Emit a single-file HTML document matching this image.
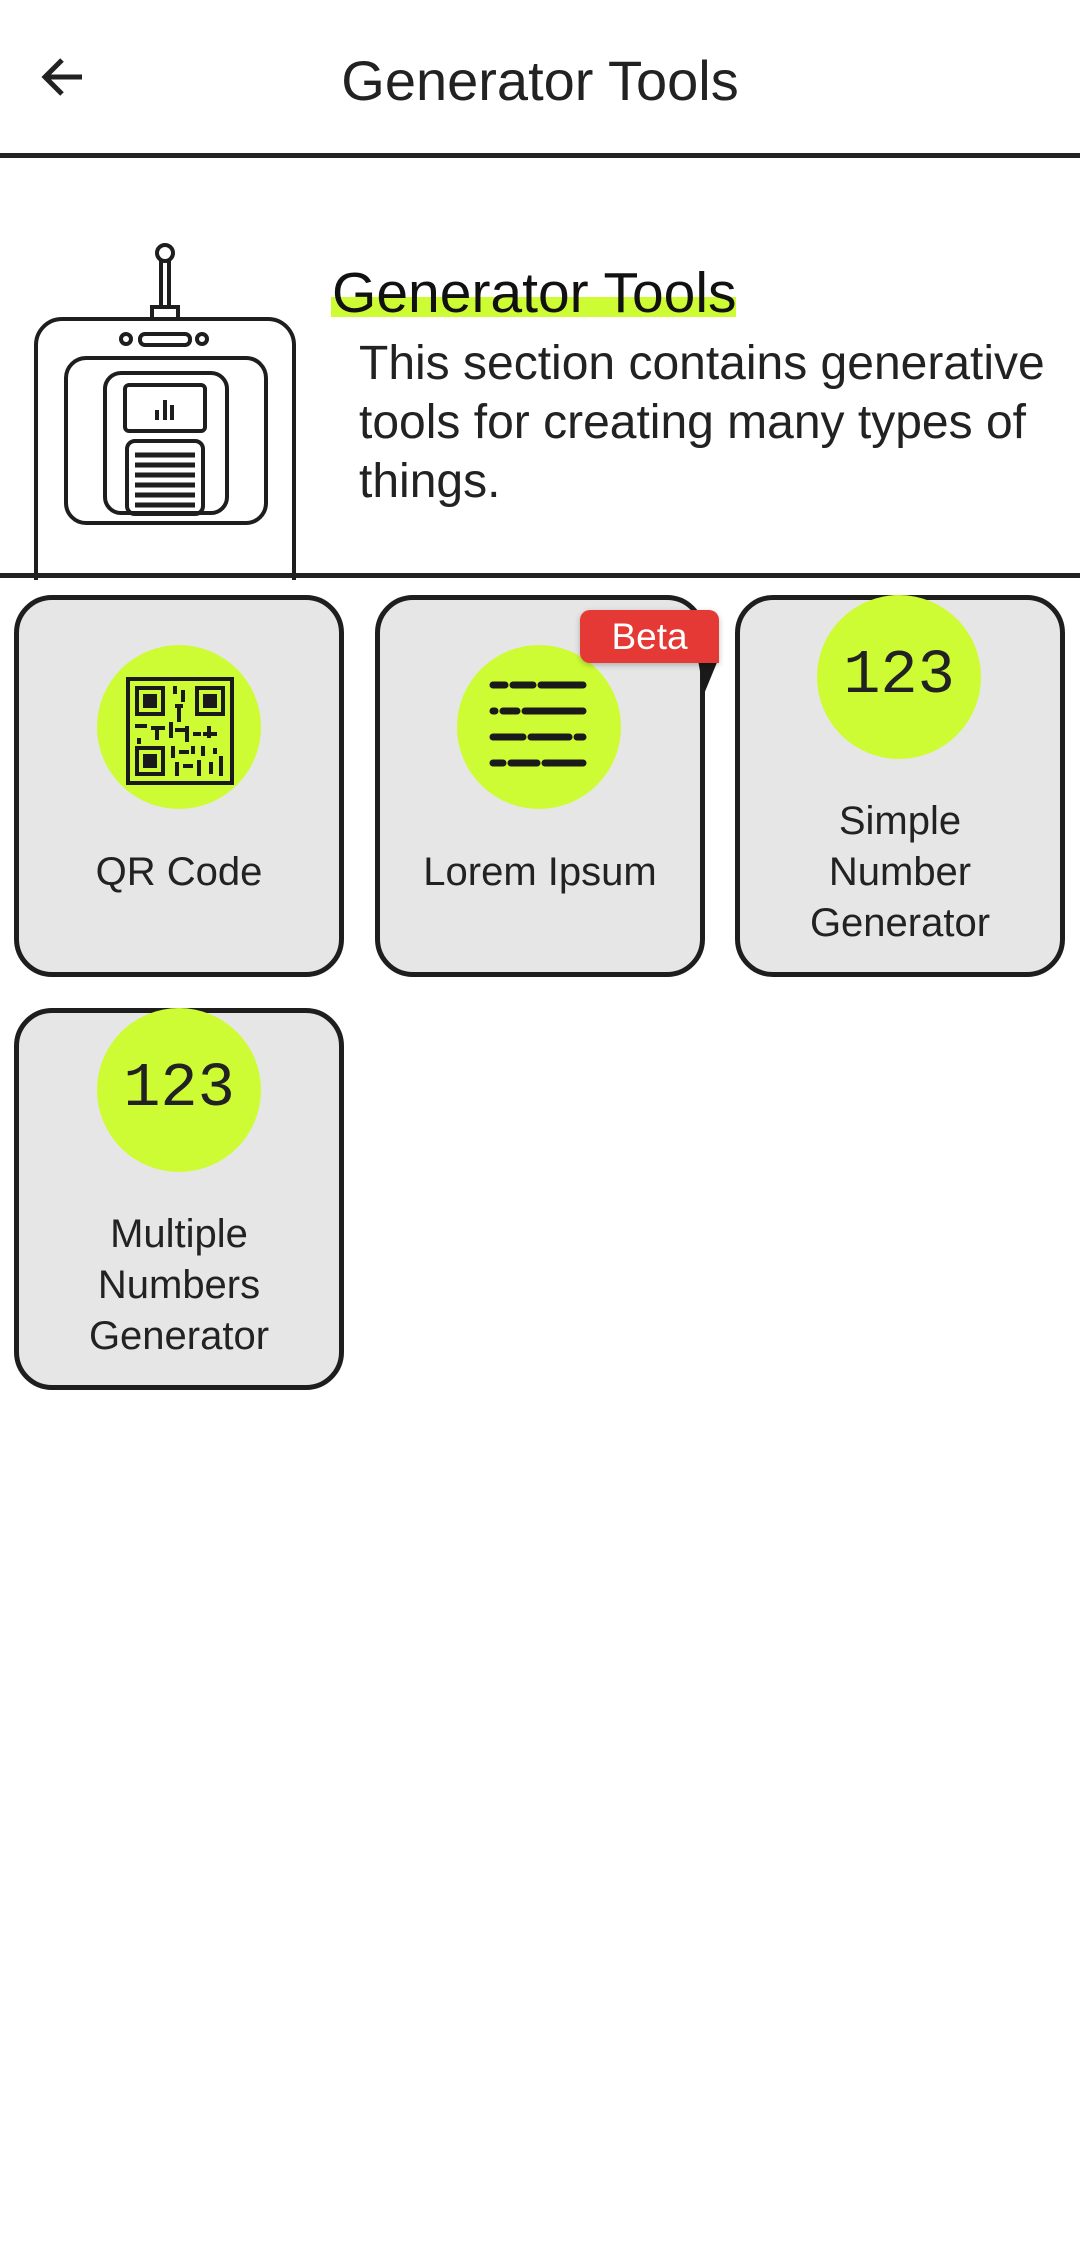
<!DOCTYPE html>
<html><head><meta charset="utf-8"><style>
*{margin:0;padding:0;box-sizing:border-box}
body{width:1080px;height:2251px;background:#fff;position:relative;overflow:hidden;font-family:"Liberation Sans",sans-serif;color:#222}
.abs{position:absolute}
.card{position:absolute;width:330px;height:382px;background:#e6e6e6;border:5px solid #1e1e1e;border-radius:38px}
.circ{position:absolute;width:164px;height:164px;border-radius:50%;background:#cdfc35}
.lbl{position:absolute;text-align:center;font-size:40px;line-height:51px;color:#222}
.num{position:absolute;font-family:"Liberation Mono",monospace;font-size:62px;color:#222;text-align:center;width:164px}
</style></head><body>
<svg class="abs" style="left:38px;top:52px" width="50" height="50" viewBox="0 0 50 50"><path d="M44 25H8M24 8L7 25L24 42" fill="none" stroke="#222" stroke-width="5"/></svg>
<div class="abs" style="left:0;width:1080px;top:48px;text-align:center;font-size:56px;line-height:66px">Generator Tools</div>
<div class="abs" style="left:0;top:153px;width:1080px;height:5px;background:#222"></div>

<svg class="abs" style="left:0;top:240px" width="320" height="340" viewBox="0 240 320 340">
<g fill="none" stroke="#1e1e1e" stroke-width="4">
<circle cx="165" cy="253" r="8"/>
<path d="M161 261V307M169 261V307"/>
<rect x="152" y="307" width="26" height="12"/>
<path d="M36 580V345a26 26 0 0 1 26-26h206a26 26 0 0 1 26 26V580"/>
<circle cx="126" cy="339" r="5"/><circle cx="202" cy="339" r="5"/>
<rect x="140" y="334" width="50" height="11" rx="5"/>
<rect x="66" y="358" width="200" height="165" rx="20"/>
<rect x="105" y="373" width="122" height="140" rx="16"/>
<rect x="125" y="385" width="80" height="46" rx="4"/>
<rect x="127" y="441" width="76" height="73" rx="8"/>
</g>
<g stroke="#1e1e1e" stroke-width="4"><path d="M157 420V410M165 420V400M172 420V405"/></g>
<g stroke="#1e1e1e" stroke-width="5"><path d="M135 455H195M135 465H195M135 475H195M135 485H195M135 495H195M135 505H195"/></g>
</svg>

<div class="abs" style="left:331px;top:297px;width:405px;height:20px;background:#cdfc35"></div>
<div class="abs" style="left:332px;top:260px;font-size:57px;line-height:66px;color:#111">Generator Tools</div>
<div class="abs" style="left:359px;top:334px;width:721px;font-size:48px;line-height:59px;color:#222;white-space:nowrap">This section contains generative<br>tools for creating many types of<br>things.</div>
<div class="abs" style="left:0;top:573px;width:1080px;height:5px;background:#222"></div>

<!-- card 1 -->
<div class="card" style="left:14px;top:595px"></div>
<div class="circ" style="left:97px;top:645px"></div>
<svg class="abs" style="left:125px;top:676px" width="110" height="110" viewBox="0 0 110 110">
<g fill="none" stroke="#1a1a1a" stroke-width="4"><rect x="3" y="3" width="104" height="104"/><rect x="12" y="12" width="26" height="26"/><rect x="72" y="12" width="26" height="26"/><rect x="12" y="72" width="26" height="26"/></g>
<g fill="#1a1a1a"><rect x="18" y="18" width="14" height="14"/><rect x="78" y="18" width="14" height="14"/><rect x="18" y="78" width="14" height="14"/>
<rect x="48" y="10" width="4" height="8"/><rect x="56" y="14" width="4" height="12"/><rect x="50" y="28" width="8" height="4"/><rect x="52" y="32" width="4" height="14"/>
<rect x="10" y="48" width="12" height="4"/><rect x="26" y="50" width="14" height="4"/><rect x="30" y="54" width="4" height="10"/><rect x="44" y="46" width="4" height="16"/><rect x="50" y="52" width="14" height="4"/><rect x="60" y="50" width="4" height="16"/><rect x="68" y="56" width="8" height="4"/><rect x="82" y="50" width="4" height="12"/><rect x="78" y="56" width="14" height="4"/>
<rect x="12" y="62" width="4" height="6"/><rect x="46" y="70" width="4" height="12"/><rect x="54" y="74" width="10" height="4"/><rect x="66" y="70" width="4" height="8"/><rect x="76" y="70" width="4" height="10"/><rect x="88" y="72" width="4" height="6"/><rect x="50" y="86" width="4" height="14"/><rect x="58" y="88" width="10" height="4"/><rect x="72" y="84" width="4" height="16"/><rect x="84" y="86" width="4" height="12"/><rect x="94" y="80" width="4" height="20"/>
</g></svg>
<div class="lbl" style="left:14px;width:330px;top:847px">QR Code</div>

<!-- card 2 -->
<div class="card" style="left:375px;top:595px"></div>
<div class="circ" style="left:457px;top:645px"></div>
<svg class="abs" style="left:487px;top:675px" width="104" height="104" viewBox="0 0 104 104">
<g stroke="#1a1a1a" stroke-width="7" stroke-linecap="round"><path d="M6 10H18M26 10H46M54 10H96M6 36H8M16 36H30M38 36H96M6 62H36M44 62H82M90 62H96M6 88H16M24 88H50M58 88H96"/></g></svg>
<div class="lbl" style="left:375px;width:330px;top:847px">Lorem Ipsum</div>
<svg class="abs" style="left:698px;top:660px" width="22" height="36"><path d="M0 0H20L6 34Z" fill="#1a1a1a"/></svg>
<div class="abs" style="left:580px;top:610px;width:139px;height:53px;background:#e53935;border-radius:10px 10px 0 10px;color:#fff;font-size:37px;line-height:53px;text-align:center;box-shadow:0 2px 6px rgba(0,0,0,.25)">Beta</div>

<!-- card 3 -->
<div class="card" style="left:735px;top:595px"></div>
<div class="circ" style="left:817px;top:595px"></div>
<div class="num" style="left:817px;top:640px">123</div>
<div class="lbl" style="left:735px;width:330px;top:796px">Simple<br>Number<br>Generator</div>

<!-- card 4 -->
<div class="card" style="left:14px;top:1008px"></div>
<div class="circ" style="left:97px;top:1008px"></div>
<div class="num" style="left:97px;top:1053px">123</div>
<div class="lbl" style="left:14px;width:330px;top:1209px">Multiple<br>Numbers<br>Generator</div>
</body></html>
